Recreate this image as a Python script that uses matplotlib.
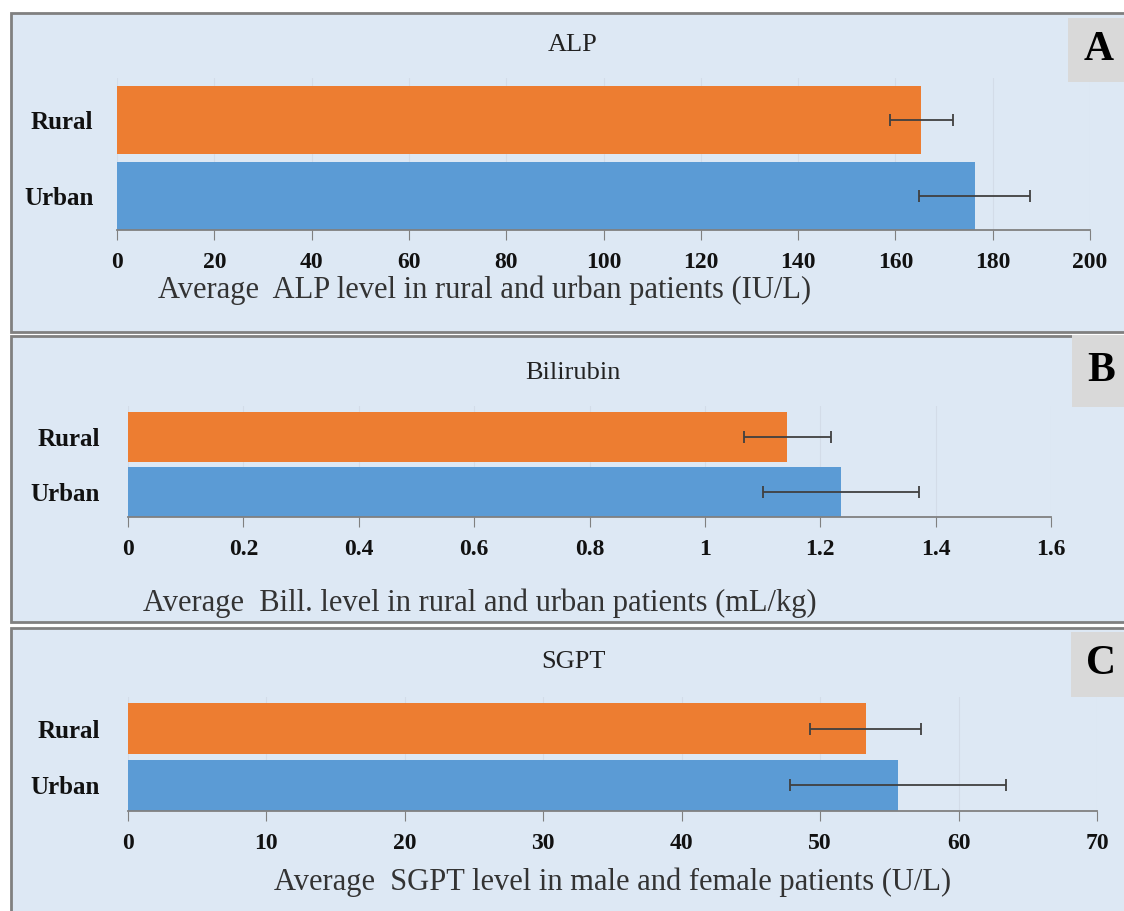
import numpy as np
import matplotlib
matplotlib.use('Agg')
import matplotlib.pyplot as plt
from matplotlib.patches import Rectangle

W, H = 1124, 911

# data
categories = ['Urban', 'Rural']
alp_mean = [176.3, 165.3]
alp_err = [11.4, 6.5]
bil_mean = [1.236, 1.143]
bil_err = [0.136, 0.075]
sgpt_mean = [55.6, 53.3]
sgpt_err = [7.8, 4.0]

alp_ticks = [0, 20, 40, 60, 80, 100, 120, 140, 160, 180, 200]
bil_ticks = [0, 0.2, 0.4, 0.6, 0.8, 1.0, 1.2, 1.4, 1.6]
bil_ticklabels = ['0', '0.2', '0.4', '0.6', '0.8', '1', '1.2', '1.4', '1.6']
sgpt_ticks = [0, 10, 20, 30, 40, 50, 60, 70]

titles = ['ALP', 'Bilirubin', 'SGPT']
xlabels = ['Average  ALP level in rural and urban patients (IU/L)',
           'Average  Bill. level in rural and urban patients (mL/kg)',
           'Average  SGPT level in male and female patients (U/L)']
letters = ['A', 'B', 'C']

bar_colors = ['#5B9BD5', '#ED7D31']
bg = '#dde8f4'

plt.rcParams['font.family'] = ['Liberation Serif', 'DejaVu Serif']

fig = plt.figure(figsize=(W / 100, H / 100), dpi=100)
fig.patch.set_facecolor('white')


def fx(x):
    return x / W


def fy(y):
    return 1 - y / H


# panel frames (top px, bottom px)
frames = [(13, 332), (336, 622), (628, 915)]
for top, bot in frames:
    fig.patches.append(Rectangle((fx(11), fy(bot)), fx(1130 - 11), (bot - top) / H,
                                 transform=fig.transFigure, facecolor=bg,
                                 edgecolor='#808080', lw=2, zorder=0))

# letter boxes (x0, top, bottom)
boxes = [(1068, 18, 82), (1072, 335, 407), (1071, 632, 697)]
for (x0, top, bot), letter in zip(boxes, letters):
    fig.patches.append(Rectangle((fx(x0), fy(bot)), fx(1124 - x0), (bot - top) / H,
                                 transform=fig.transFigure, facecolor='#d9d9d9',
                                 edgecolor='none', zorder=1))
    fig.text(fx((x0 + 1124) / 2 + 3), fy((top + bot) / 2), letter, fontsize=30,
             fontweight='bold', ha='center', va='center', zorder=5)

# axes geometry: left px, right px, axis px, rural bar top px
geom = [(117, 1090, 230, 86), (128, 1051, 517, 412), (128, 1097, 811, 703)]
means = [alp_mean, bil_mean, sgpt_mean]
errs = [alp_err, bil_err, sgpt_err]
ticks = [alp_ticks, bil_ticks, sgpt_ticks]
ticklabels = [[str(t) for t in alp_ticks], bil_ticklabels, [str(t) for t in sgpt_ticks]]
title_pos = [(573, 45), (573, 373), (573, 662)]
xlabel_pos = [(485, 290), (480, 603), (613, 882)]
ypads = [17, 20, 20]

for i in range(3):
    left, right, axis_y, top = geom[i]
    unit = (axis_y - top) / 1.9
    ax_top = top - 0.1 * unit
    ax = fig.add_axes([fx(left), fy(axis_y), fx(right - left), (axis_y - ax_top) / H])
    ax.set_zorder(3)
    ax.set_facecolor('none')
    y = np.arange(len(categories))
    ax.barh(y, means[i], height=0.9, color=bar_colors, zorder=2)
    ax.errorbar(means[i], y, xerr=errs[i], fmt='none', ecolor='#404040',
                elinewidth=1.3, capsize=4, capthick=1.3, zorder=3)
    ax.set_ylim(-0.45, 1.55)
    ax.set_xlim(ticks[i][0], ticks[i][-1])
    ax.set_xticks(ticks[i])
    ax.set_xticklabels(ticklabels[i], fontsize=17, fontweight='bold', color='#111111')
    ax.set_yticks(y)
    ax.set_yticklabels(categories, fontsize=18, fontweight='bold', color='#111111')
    ax.tick_params(axis='y', length=0, pad=ypads[i])
    ax.tick_params(axis='x', direction='out', length=7, color='#808080', pad=9)
    for s in ['top', 'right', 'left']:
        ax.spines[s].set_visible(False)
    ax.spines['bottom'].set_color('#808080')
    ax.spines['bottom'].set_linewidth(1.3)
    ax.grid(axis='x', color='#d3dce8', lw=0.8, zorder=0)
    ax.set_axisbelow(True)

    fig.text(fx(title_pos[i][0]), fy(title_pos[i][1]), titles[i], fontsize=19,
             ha='center', va='center', zorder=5, color='#222222')
    fig.text(fx(xlabel_pos[i][0]), fy(xlabel_pos[i][1]), xlabels[i], fontsize=22,
             ha='center', va='center', color='#333333', zorder=5)

fig.savefig('out.png', dpi=100, facecolor='white')
